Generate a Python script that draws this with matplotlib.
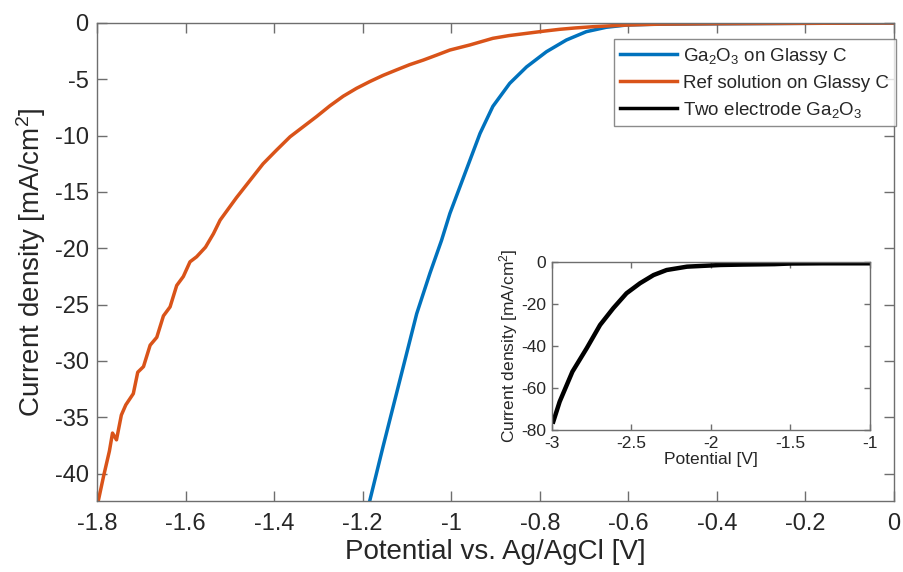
import matplotlib
matplotlib.use("Agg")
import matplotlib.pyplot as plt

plt.rcParams['font.family'] = ['Liberation Sans', 'DejaVu Sans']
plt.rcParams['mathtext.fontset'] = 'custom'
plt.rcParams['mathtext.rm'] = 'Liberation Sans'
plt.rcParams['mathtext.it'] = 'Liberation Sans'
plt.rcParams['axes.unicode_minus'] = False

# Ga2O3 on glassy carbon
ga_v = [-1.184, -1.154, -1.116, -1.078, -1.048, -1.022, -1.003, -0.98, -0.958,
        -0.935, -0.906, -0.868, -0.83, -0.785, -0.74, -0.695, -0.65, -0.604,
        -0.55, -0.5, -0.4, -0.2, 0.0]
ga_j = [-42.4, -37.6, -31.7, -25.8, -22.2, -19.3, -16.9, -14.5, -12.2,
        -9.8, -7.4, -5.36, -3.9, -2.55, -1.51, -0.77, -0.38, -0.18,
        -0.12, -0.1, -0.07, -0.03, 0.0]

# reference solution on glassy carbon
ref_v = [-1.797, -1.785, -1.772, -1.765, -1.756, -1.745, -1.735, -1.718, -1.708,
         -1.695, -1.68, -1.665, -1.65, -1.635, -1.62, -1.605, -1.59, -1.575,
         -1.555, -1.537, -1.522, -1.485, -1.455, -1.425, -1.395, -1.364, -1.334,
         -1.304, -1.274, -1.244, -1.214, -1.184, -1.154, -1.124, -1.094, -1.063,
         -1.033, -1.003, -0.958, -0.906, -0.87, -0.83, -0.79, -0.755, -0.72,
         -0.68, -0.64, -0.604, -0.53, -0.4, -0.2, 0.0]
ref_j = [-42.4, -40.2, -38.0, -36.4, -37.0, -34.8, -33.9, -32.9, -31.0,
         -30.5, -28.6, -27.9, -26.0, -25.2, -23.3, -22.5, -21.2, -20.75,
         -19.9, -18.7, -17.5, -15.5, -14.0, -12.5, -11.3, -10.1, -9.2,
         -8.3, -7.35, -6.5, -5.8, -5.2, -4.65, -4.17, -3.7, -3.29,
         -2.85, -2.4, -1.95, -1.36, -1.12, -0.92, -0.72, -0.56, -0.44,
         -0.33, -0.25, -0.18, -0.1, -0.06, -0.03, 0.0]

# two electrode Ga2O3 (inset)
two_v = [-2.99, -2.95, -2.87, -2.78, -2.696, -2.613, -2.53, -2.445, -2.36,
         -2.278, -2.15, -1.94, -1.8, -1.6, -1.5, -1.3, -1.0]
two_j = [-76.0, -66.5, -52.2, -41.0, -29.9, -21.9, -14.8, -10.0, -6.1,
         -3.7, -2.1, -1.3, -1.1, -0.9, -0.6, -0.5, -0.5]

blue = '#0072BD'
orange = '#D95319'
spine_col = '#6e6e6e'
text_col = '#262626'

fig = plt.figure(figsize=(9.04, 5.72), dpi=100)
ax = fig.add_axes([0.1073, 0.1247, 0.8817, 0.8351])
ax.plot(ga_v, ga_j, color=blue, lw=2.5, label='Ga$_2$O$_3$ on Glassy C')
ax.plot(ref_v, ref_j, color=orange, lw=2.5, label='Ref solution on Glassy C')
ax.plot([], [], color='black', lw=2.5, label='Two electrode Ga$_2$O$_3$')
ax.set_xlim(-1.8, 0)
ax.set_ylim(-42.4, 0)
ax.set_xticks([-1.8, -1.6, -1.4, -1.2, -1.0, -0.8, -0.6, -0.4, -0.2, 0])
ax.set_xticklabels(['-1.8', '-1.6', '-1.4', '-1.2', '-1', '-0.8', '-0.6', '-0.4', '-0.2', '0'])
ax.set_yticks([0, -5, -10, -15, -20, -25, -30, -35, -40])
ax.tick_params(direction='in', top=True, right=True, length=7, width=1,
               color=spine_col, labelcolor=text_col, labelsize=17, pad=6)
ax.tick_params(axis='x', pad=9)
for s in ax.spines.values():
    s.set_color(spine_col)
    s.set_linewidth(1)
ax.set_xlabel('Potential vs. Ag/AgCl [V]', fontsize=20, color=text_col, labelpad=3)
ax.set_ylabel('Current density [mA/cm$^2$]', fontsize=20, color=text_col, labelpad=5)

leg = ax.legend(loc='upper right', bbox_to_anchor=(1.002, 0.966), fontsize=13.5,
                frameon=True, fancybox=False, handlelength=3.0, handletextpad=0.35,
                borderpad=0.35, labelspacing=0.42, borderaxespad=0)
leg.get_frame().set_edgecolor(spine_col)
leg.get_frame().set_linewidth(1)
for t in leg.get_texts():
    t.set_color(text_col)

ins = fig.add_axes([0.6103, 0.2483, 0.3521, 0.2932])
ins.plot(two_v, two_j, color='black', lw=3.2)
ins.set_xlim(-3, -1)
ins.set_ylim(-80, 0)
ins.set_xticks([-3, -2.5, -2, -1.5, -1])
ins.set_xticklabels(['-3', '-2.5', '-2', '-1.5', '-1'])
ins.set_yticks([0, -20, -40, -60, -80])
ins.tick_params(direction='in', top=True, right=True, length=4, width=1,
                color=spine_col, labelcolor=text_col, labelsize=12.5, pad=4)
for s in ins.spines.values():
    s.set_color(spine_col)
    s.set_linewidth(1)
ins.set_xlabel('Potential [V]', fontsize=12.5, color=text_col, labelpad=1)
ins.set_ylabel('Current density [mA/cm$^2$]', fontsize=12.5, color=text_col, labelpad=1)

fig.savefig('out.png', dpi=100)
